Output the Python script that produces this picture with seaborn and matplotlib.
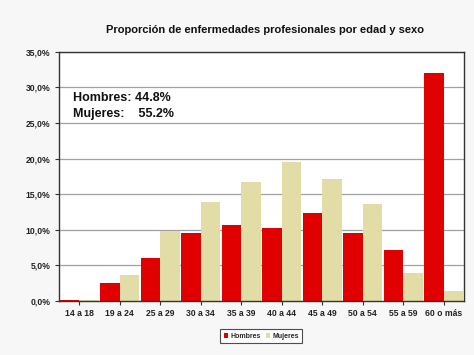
import matplotlib
matplotlib.use("Agg")
import matplotlib.pyplot as plt
import pandas as pd
import seaborn as sns
from matplotlib.ticker import FuncFormatter

edades = ["14 a 18", "19 a 24", "25 a 29", "30 a 34", "35 a 39",
          "40 a 44", "45 a 49", "50 a 54", "55 a 59", "60 o más"]
hombres = [0.2, 2.5, 6.0, 9.5, 10.7, 10.3, 12.3, 9.5, 7.1, 32.0]
mujeres = [0.1, 3.6, 9.8, 13.9, 16.7, 19.5, 17.1, 13.6, 4.0, 1.4]

df = pd.DataFrame({
    "Edad": edades * 2,
    "Porcentaje": hombres + mujeres,
    "Sexo": ["Hombres"] * len(edades) + ["Mujeres"] * len(edades),
})

sns.set_theme(style="white")
plt.rcParams["font.family"] = ["Liberation Sans", "DejaVu Sans"]

fig = plt.figure(figsize=(4.74, 3.55), dpi=100)
fig.patch.set_facecolor("#f7f7f7")
ax = fig.add_axes([0.124, 0.152, 0.855, 0.702])

sns.barplot(data=df, x="Edad", y="Porcentaje", hue="Sexo",
            palette={"Hombres": "#e00000", "Mujeres": "#e2dca6"},
            saturation=1, width=0.96, edgecolor="none", ax=ax)

ax.set_ylim(0, 35)
ax.set_yticks(range(0, 36, 5))
ax.yaxis.set_major_formatter(FuncFormatter(lambda v, _: f"{v:.1f}%".replace(".", ",")))
ax.yaxis.grid(True, color="#a0a0a0", linewidth=0.9)
ax.set_axisbelow(True)
ax.set_facecolor("white")
ax.set_xlabel("")
ax.set_ylabel("")
for s in ax.spines.values():
    s.set_color("#333333")
    s.set_linewidth(1.0)
ax.tick_params(axis="both", length=3, width=0.8, color="#333333", pad=3)
ax.tick_params(axis="y", left=True)
ax.tick_params(axis="x", bottom=True)
for lab in ax.get_xticklabels() + ax.get_yticklabels():
    lab.set_fontsize(6.2)
    lab.set_fontweight("bold")
    lab.set_color("#222222")

ax.text(0.035, 0.84, "Hombres: 44.8%\nMujeres:    55.2%", transform=ax.transAxes,
        fontsize=9, fontweight="bold", color="#111111", va="top",
        linespacing=1.45)

fig.text(0.56, 0.915, "Proporción de enfermedades profesionales por edad y sexo",
         ha="center", va="center", fontsize=8, fontweight="bold", color="#111111")

leg = ax.legend(loc="upper center", bbox_to_anchor=(0.5, -0.1), ncol=2,
                fontsize=5, frameon=True, fancybox=False, handlelength=0.6,
                handletextpad=0.3, columnspacing=0.8, borderpad=0.5)
leg.get_frame().set_edgecolor("#222222")
leg.get_frame().set_linewidth(0.8)
for t in leg.get_texts():
    t.set_fontweight("bold")

fig.savefig("out.png", dpi=100, facecolor=fig.get_facecolor())
